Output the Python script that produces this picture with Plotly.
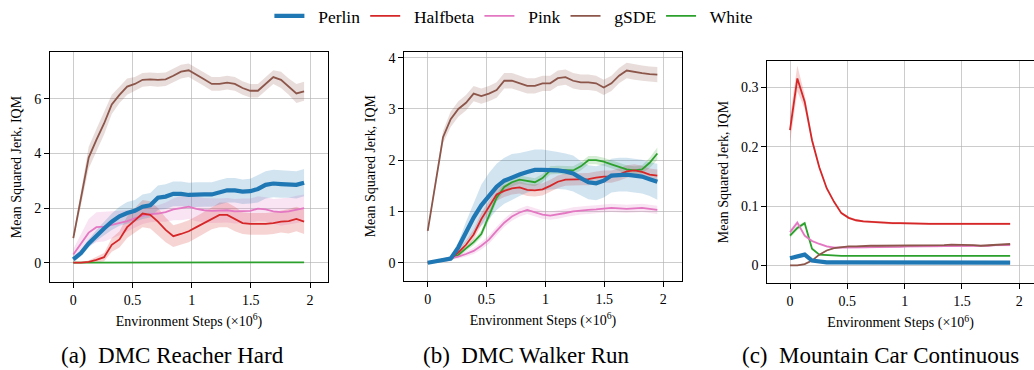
import plotly.graph_objects as go

# ---------------- data ----------------
steps = [0, 0.065, 0.13, 0.195, 0.26, 0.325, 0.39, 0.455, 0.52, 0.585, 0.65, 0.715, 0.78,
         0.845, 0.91, 0.975, 1.04, 1.105, 1.17, 1.235, 1.3, 1.365, 1.43, 1.495, 1.56,
         1.625, 1.69, 1.755, 1.82, 1.885, 1.95]
steps_mc = [0, 0.064, 0.128, 0.192, 0.256, 0.32, 0.384, 0.448, 0.512, 0.576, 0.64, 0.704,
            0.768, 0.832, 0.896, 0.96, 1.024, 1.088, 1.152, 1.216, 1.28, 1.344, 1.408,
            1.472, 1.536, 1.6, 1.664, 1.728, 1.792, 1.856, 1.92]

methods = ["Perlin", "Halfbeta", "Pink", "gSDE", "White"]
colors = {"Perlin": "#1f77b4", "Halfbeta": "#d62728", "Pink": "#e377c2",
          "gSDE": "#8c564b", "White": "#2ca02c"}

# (a) DMC Reacher Hard
reacher_perlin = [0.12, 0.35, 0.7, 1.0, 1.25, 1.5, 1.7, 1.82, 1.9, 2.05, 2.1, 2.38, 2.42, 2.52, 2.52,
                  2.48, 2.5, 2.5, 2.5, 2.58, 2.65, 2.65, 2.6, 2.62, 2.7, 2.85, 2.9, 2.88, 2.88, 2.85, 2.93]
reacher_perlin_ci = [0.1, 0.12, 0.15, 0.2, 0.25, 0.3, 0.35, 0.4, 0.4, 0.45, 0.45, 0.45, 0.45, 0.45, 0.45,
                     0.45, 0.45, 0.45, 0.45, 0.45, 0.45, 0.45, 0.45, 0.45, 0.5, 0.5, 0.5, 0.5, 0.5, 0.5, 0.5]
reacher_halfbeta = [0.0, 0.0, 0.03, 0.1, 0.2, 0.65, 0.85, 1.3, 1.55, 1.8, 1.75, 1.5, 1.2, 0.97, 1.05,
                    1.15, 1.3, 1.45, 1.62, 1.75, 1.75, 1.6, 1.45, 1.42, 1.42, 1.42, 1.45, 1.5, 1.52, 1.6, 1.5]
reacher_halfbeta_ci = [0.02, 0.02, 0.05, 0.1, 0.15, 0.25, 0.3, 0.4, 0.45, 0.5, 0.5, 0.5, 0.45, 0.4, 0.4,
                       0.4, 0.4, 0.4, 0.4, 0.45, 0.45, 0.45, 0.4, 0.4, 0.4, 0.4, 0.4, 0.4, 0.45, 0.45, 0.45]
reacher_pink = [0.3, 0.7, 1.1, 1.3, 1.32, 1.38, 1.45, 1.52, 1.62, 1.72, 1.78, 1.8, 1.85, 1.95, 2.0,
                2.05, 1.97, 1.92, 1.9, 1.9, 1.92, 1.88, 1.9, 1.9, 1.98, 1.95, 1.88, 1.85, 1.88, 1.95, 2.0]
reacher_pink_ci = [0.2, 0.35, 0.5, 0.55, 0.55, 0.5, 0.45, 0.4, 0.35, 0.3, 0.3, 0.3, 0.35, 0.4, 0.45,
                   0.45, 0.45, 0.45, 0.45, 0.45, 0.45, 0.45, 0.45, 0.45, 0.45, 0.45, 0.45, 0.5, 0.5, 0.5, 0.5]
reacher_gsde = [0.9, 2.4, 3.85, 4.5, 5.1, 5.8, 6.15, 6.45, 6.55, 6.7, 6.72, 6.7, 6.72, 6.85, 7.0,
                7.05, 6.9, 6.72, 6.55, 6.55, 6.6, 6.55, 6.4, 6.3, 6.3, 6.55, 6.8, 6.7, 6.45, 6.2, 6.28]
reacher_gsde_ci = [0.1, 0.3, 0.4, 0.4, 0.4, 0.35, 0.3, 0.3, 0.25, 0.25, 0.25, 0.25, 0.25, 0.25, 0.25,
                   0.25, 0.25, 0.25, 0.25, 0.25, 0.25, 0.25, 0.25, 0.25, 0.25, 0.25, 0.25, 0.3, 0.3, 0.35, 0.35]
reacher_white = [0.0, 0.0, 0.01, 0.01, 0.01, 0.01, 0.01, 0.01, 0.01, 0.01, 0.01, 0.01, 0.01, 0.01, 0.01,
                 0.01, 0.01, 0.01, 0.01, 0.01, 0.01, 0.01, 0.01, 0.01, 0.01, 0.01, 0.01, 0.01, 0.01, 0.01, 0.01]
reacher_white_ci = [0.01] * 31

# (b) DMC Walker Run
walker_perlin = [0.0, 0.02, 0.05, 0.08, 0.3, 0.6, 0.88, 1.12, 1.3, 1.48, 1.6, 1.67, 1.72, 1.77, 1.81,
                 1.81, 1.81, 1.8, 1.78, 1.74, 1.65, 1.57, 1.55, 1.6, 1.7, 1.72, 1.72, 1.7, 1.68, 1.63, 1.58]
walker_perlin_ci = [0.01, 0.02, 0.03, 0.05, 0.1, 0.2, 0.3, 0.4, 0.45, 0.45, 0.45, 0.45, 0.42, 0.4, 0.4,
                    0.4, 0.38, 0.36, 0.35, 0.35, 0.33, 0.33, 0.33, 0.33, 0.33, 0.33, 0.33, 0.33, 0.33, 0.33, 0.35]
walker_halfbeta = [0.0, 0.02, 0.05, 0.08, 0.2, 0.35, 0.55, 0.85, 1.1, 1.33, 1.4, 1.45, 1.47, 1.42, 1.41,
                   1.43, 1.5, 1.58, 1.62, 1.62, 1.63, 1.63, 1.66, 1.68, 1.68, 1.72, 1.78, 1.8, 1.77, 1.72, 1.7]
walker_halfbeta_ci = [0.01, 0.02, 0.03, 0.04, 0.06, 0.08, 0.1, 0.12, 0.12, 0.12, 0.12, 0.12, 0.12, 0.12, 0.12,
                      0.12, 0.12, 0.12, 0.12, 0.12, 0.12, 0.12, 0.12, 0.12, 0.12, 0.12, 0.12, 0.12, 0.12, 0.12, 0.12]
walker_pink = [0.0, 0.03, 0.06, 0.09, 0.12, 0.17, 0.23, 0.33, 0.45, 0.62, 0.78, 0.9, 0.98, 1.03, 0.98,
               0.94, 0.92, 0.94, 0.97, 1.0, 1.02, 1.03, 1.04, 1.06, 1.07, 1.06, 1.05, 1.06, 1.07, 1.05, 1.03]
walker_pink_ci = [0.01, 0.02, 0.02, 0.03, 0.04, 0.05, 0.06, 0.07, 0.08, 0.08, 0.08, 0.08, 0.08, 0.08, 0.08,
                  0.08, 0.08, 0.08, 0.08, 0.08, 0.08, 0.08, 0.08, 0.08, 0.08, 0.08, 0.08, 0.08, 0.08, 0.08, 0.08]
walker_gsde = [0.62, 1.55, 2.45, 2.8, 3.0, 3.12, 3.3, 3.25, 3.3, 3.37, 3.55, 3.55, 3.5, 3.45, 3.45,
               3.5, 3.5, 3.6, 3.62, 3.55, 3.52, 3.52, 3.5, 3.42, 3.5, 3.65, 3.75, 3.72, 3.7, 3.68, 3.67]
walker_gsde_ci = [0.05, 0.1, 0.12, 0.15, 0.15, 0.15, 0.15, 0.15, 0.15, 0.15, 0.15, 0.15, 0.15, 0.15, 0.15,
                  0.15, 0.15, 0.15, 0.15, 0.15, 0.15, 0.15, 0.15, 0.15, 0.15, 0.15, 0.15, 0.15, 0.15, 0.15, 0.15]
walker_white = [0.0, 0.02, 0.05, 0.08, 0.15, 0.28, 0.4, 0.56, 0.9, 1.27, 1.48, 1.57, 1.62, 1.6, 1.57,
                1.65, 1.8, 1.81, 1.8, 1.8, 1.88, 2.0, 2.0, 1.97, 1.92, 1.87, 1.82, 1.8, 1.82, 1.95, 2.13]
walker_white_ci = [0.01, 0.02, 0.02, 0.03, 0.04, 0.05, 0.06, 0.07, 0.08, 0.08, 0.08, 0.08, 0.08, 0.08, 0.08,
                   0.08, 0.08, 0.08, 0.08, 0.08, 0.08, 0.08, 0.08, 0.08, 0.08, 0.08, 0.08, 0.08, 0.08, 0.1, 0.12]

# (c) Mountain Car Continuous
mc_perlin = [0.012, 0.015, 0.018, 0.008, 0.006, 0.005, 0.005, 0.005, 0.005, 0.005, 0.0045, 0.0045, 0.0045,
             0.0045, 0.0045, 0.0045, 0.0045, 0.0045, 0.0045, 0.0045, 0.0045, 0.0045, 0.0045, 0.0045, 0.0045,
             0.0045, 0.0045, 0.0045, 0.0045, 0.0045, 0.0045]
mc_perlin_ci = [0.002] * 31
mc_halfbeta = [0.228, 0.315, 0.276, 0.211, 0.165, 0.13, 0.107, 0.088, 0.08, 0.076, 0.074, 0.073, 0.072,
               0.0715, 0.071, 0.071, 0.0705, 0.0705, 0.0705, 0.07, 0.07, 0.07, 0.07, 0.07, 0.07, 0.07,
               0.07, 0.07, 0.07, 0.07, 0.07]
mc_halfbeta_ci = [0.022, 0.022, 0.012, 0.006, 0.004, 0.003, 0.002, 0.002, 0.002, 0.002, 0.002, 0.002, 0.002,
                  0.002, 0.002, 0.002, 0.002, 0.002, 0.002, 0.002, 0.002, 0.002, 0.002, 0.002, 0.002, 0.002,
                  0.002, 0.002, 0.002, 0.002, 0.002]
mc_pink = [0.056, 0.072, 0.05, 0.041, 0.036, 0.032, 0.03, 0.03, 0.03, 0.03, 0.03, 0.031, 0.031, 0.031,
           0.031, 0.031, 0.032, 0.032, 0.032, 0.032, 0.032, 0.033, 0.033, 0.033, 0.033, 0.033, 0.033,
           0.033, 0.034, 0.034, 0.034]
mc_pink_ci = [0.004, 0.004, 0.003, 0.002, 0.002, 0.002, 0.002, 0.002, 0.002, 0.002, 0.002, 0.002, 0.002,
              0.002, 0.002, 0.002, 0.002, 0.002, 0.002, 0.002, 0.002, 0.002, 0.002, 0.002, 0.002, 0.002,
              0.002, 0.002, 0.002, 0.002, 0.002]
mc_gsde = [0.0, 0.0, 0.002, 0.008, 0.018, 0.025, 0.029, 0.031, 0.032, 0.032, 0.033, 0.033, 0.033, 0.033,
           0.033, 0.034, 0.034, 0.034, 0.033, 0.034, 0.034, 0.034, 0.035, 0.035, 0.034, 0.034, 0.033,
           0.034, 0.035, 0.035, 0.036]
mc_gsde_ci = [0.001] * 31
mc_white = [0.05, 0.063, 0.071, 0.028, 0.018, 0.017, 0.016, 0.016, 0.016, 0.016, 0.016, 0.016, 0.016,
            0.016, 0.016, 0.016, 0.016, 0.016, 0.016, 0.016, 0.016, 0.016, 0.016, 0.016, 0.016, 0.016,
            0.016, 0.016, 0.016, 0.016, 0.016]
mc_white_ci = [0.004, 0.004, 0.003, 0.002, 0.001, 0.001, 0.001, 0.001, 0.001, 0.001, 0.001, 0.001, 0.001,
               0.001, 0.001, 0.001, 0.001, 0.001, 0.001, 0.001, 0.001, 0.001, 0.001, 0.001, 0.001, 0.001,
               0.001, 0.001, 0.001, 0.001, 0.001]

panels = [
    ("x", "y", steps, {"Perlin": (reacher_perlin, reacher_perlin_ci),
                       "Halfbeta": (reacher_halfbeta, reacher_halfbeta_ci),
                       "Pink": (reacher_pink, reacher_pink_ci),
                       "gSDE": (reacher_gsde, reacher_gsde_ci),
                       "White": (reacher_white, reacher_white_ci)}),
    ("x2", "y2", steps, {"Perlin": (walker_perlin, walker_perlin_ci),
                         "Halfbeta": (walker_halfbeta, walker_halfbeta_ci),
                         "Pink": (walker_pink, walker_pink_ci),
                         "gSDE": (walker_gsde, walker_gsde_ci),
                         "White": (walker_white, walker_white_ci)}),
    ("x3", "y3", steps_mc, {"Perlin": (mc_perlin, mc_perlin_ci),
                            "Halfbeta": (mc_halfbeta, mc_halfbeta_ci),
                            "Pink": (mc_pink, mc_pink_ci),
                            "gSDE": (mc_gsde, mc_gsde_ci),
                            "White": (mc_white, mc_white_ci)}),
]

captions = ["(a)\u00a0 DMC Reacher Hard", "(b)\u00a0 DMC Walker Run", "(c)\u00a0 Mountain Car Continuous"]
x_title = "Environment Steps (\u00d710<sup>6</sup>)"
y_title = "Mean Squared Jerk, IQM"
x_ticks = [0, 0.5, 1, 1.5, 2]
x_ticktext = ["0", "0.5", "1", "1.5", "2"]
y_ticks = [[0, 2, 4, 6], [0, 1, 2, 3, 4], [0, 0.1, 0.2, 0.3]]
y_ticktext = [["0", "2", "4", "6"], ["0", "1", "2", "3", "4"], ["0", "0.1", "0.2", "0.3"]]


def rgba(hexcol, a):
    h = hexcol.lstrip("#")
    return "rgba(%d,%d,%d,%.2f)" % (int(h[0:2], 16), int(h[2:4], 16), int(h[4:6], 16), a)


fig = go.Figure()
line_order = ["White", "Pink", "gSDE", "Halfbeta", "Perlin"]
widths = {"Perlin": 4.2, "Halfbeta": 1.8, "Pink": 1.8, "gSDE": 1.8, "White": 1.8}

for pi, (xa, ya, xs, series) in enumerate(panels):
    for m in line_order:
        ys, ci = series[m]
        hi = [v + c for v, c in zip(ys, ci)]
        lo = [v - c for v, c in zip(ys, ci)]
        fig.add_trace(go.Scatter(x=list(xs) + list(xs)[::-1], y=hi + lo[::-1], fill="toself",
                                 fillcolor=rgba(colors[m], 0.2), line=dict(width=0),
                                 mode="lines", hoverinfo="skip", showlegend=False,
                                 xaxis=xa, yaxis=ya))
    for m in line_order:
        ys, ci = series[m]
        fig.add_trace(go.Scatter(x=xs, y=ys, mode="lines", name="\u00a0\u00a0" + m, legendgroup=m,
                                 legendrank=methods.index(m) + 1,
                                 line=dict(color=colors[m], width=widths[m]),
                                 showlegend=(pi == 0), xaxis=xa, yaxis=ya))

W, H = 1034, 370
# plot boxes in pixels (left, right, top, bottom)
boxes = [(50, 328, 52, 282), (404.3, 681.7, 51.7, 280.7), (767.3, 1034, 60.7, 283.3)]
xranges = [[-0.197, 2.152], [-0.199, 2.157], [-0.198, 2.128]]
yranges = [[-0.71, 7.72], [-0.351, 4.117], [-0.0303, 0.345]]

font_family = "Liberation Serif"
grid_col = "rgba(176,176,176,0.65)"
layout = dict(
    width=W, height=H, margin=dict(l=0, r=0, t=0, b=0, autoexpand=False),
    paper_bgcolor="white", plot_bgcolor="white",
    font=dict(family=font_family, size=14, color="black"),
    showlegend=True,
    legend=dict(orientation="h", x=0.497, xanchor="center", y=1 - 16 / H, yanchor="middle",
                font=dict(family=font_family, size=17.5, color="black"),
                bgcolor="rgba(0,0,0,0)", traceorder="normal"),
)
annotations = []
for i, (l, r, t, b) in enumerate(boxes):
    sfx = "" if i == 0 else str(i + 1)
    layout["xaxis" + sfx] = dict(
        domain=[l / W, r / W], anchor="y" + sfx, range=xranges[i],
        tickvals=x_ticks, ticktext=x_ticktext, ticks="outside", ticklen=5, tickwidth=1,
        tickcolor="black", showline=True, linecolor="black", linewidth=1, mirror=True,
        showgrid=True, gridcolor=grid_col, gridwidth=1, zeroline=False,
        tickfont=dict(family=font_family, size=14, color="black"),
        title=dict(text=x_title, standoff=9, font=dict(family=font_family, size=14, color="black")))
    layout["yaxis" + sfx] = dict(
        domain=[1 - b / H, 1 - t / H], anchor="x" + sfx, range=yranges[i],
        tickvals=y_ticks[i], ticktext=y_ticktext[i], ticks="outside", ticklen=5, tickwidth=1,
        tickcolor="black", showline=True, linecolor="black", linewidth=1, mirror=(i < 2),
        showgrid=True, gridcolor=grid_col, gridwidth=1, zeroline=False,
        tickfont=dict(family=font_family, size=14, color="black"),
        title=dict(text=y_title, standoff=9, font=dict(family=font_family, size=14, color="black")))

# captions
caption_x = [172, 526, 880]
for i in range(3):
    annotations.append(dict(text=captions[i], xref="paper", yref="paper",
                            x=caption_x[i] / W, y=1 - 355 / H, xanchor="center", yanchor="middle",
                            showarrow=False, font=dict(family=font_family, size=23, color="black")))
layout["annotations"] = annotations
fig.update_layout(**layout)
fig.write_html("out.html")
